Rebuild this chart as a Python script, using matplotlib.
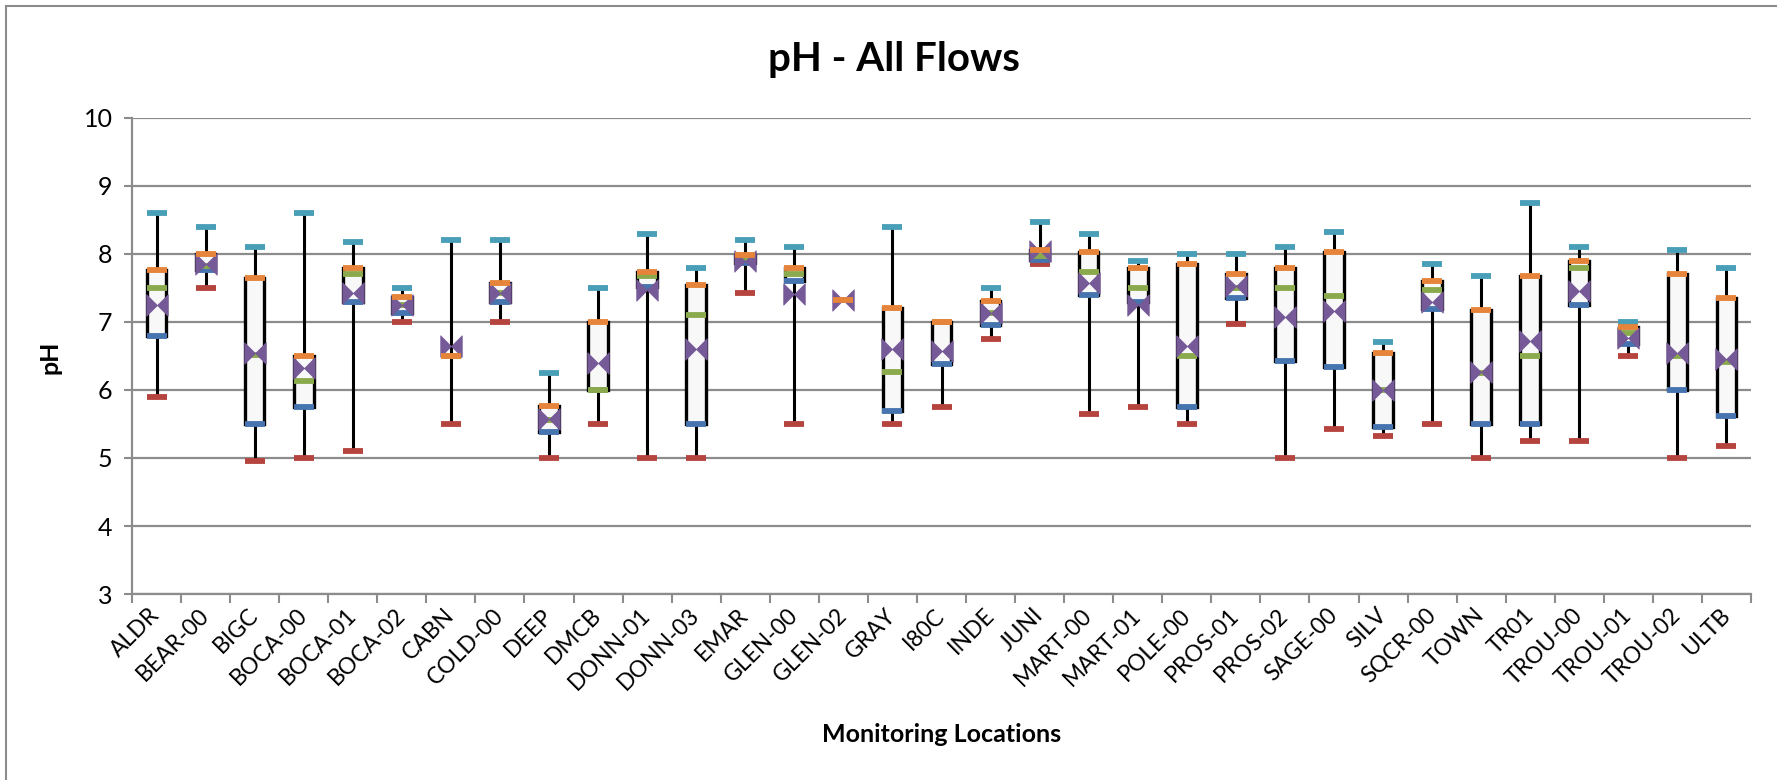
import matplotlib
matplotlib.use('Agg')
import matplotlib.pyplot as plt
from matplotlib.lines import Line2D
from matplotlib.patches import Rectangle
from matplotlib.path import Path

sites = ['ALDR', 'BEAR-00', 'BIGC', 'BOCA-00', 'BOCA-01', 'BOCA-02', 'CABN', 'COLD-00',
         'DEEP', 'DMCB', 'DONN-01', 'DONN-03', 'EMAR', 'GLEN-00', 'GLEN-02', 'GRAY',
         'I80C', 'INDE', 'JUNI', 'MART-00', 'MART-01', 'POLE-00', 'PROS-01', 'PROS-02',
         'SAGE-00', 'SILV', 'SQCR-00', 'TOWN', 'TR01', 'TROU-00', 'TROU-01', 'TROU-02', 'ULTB']

ph_max = [8.60, 8.40, 8.10, 8.60, 8.17, 7.50, 8.20, 8.20, 6.25, 7.50, 8.30, 7.80, 8.20,
          8.10, 7.33, 8.40, 7.00, 7.50, 8.47, 8.30, 7.90, 8.00, 8.00, 8.10, 8.33, 6.70,
          7.86, 7.67, 8.75, 8.10, 7.00, 8.06, 7.80]
ph_q3 = [7.77, 8.00, 7.64, 6.50, 7.80, 7.37, 6.50, 7.58, 5.77, 7.00, 7.73, 7.55, 7.99,
         7.80, 7.33, 7.20, 7.00, 7.31, 8.06, 8.03, 7.80, 7.86, 7.70, 7.80, 8.03, 6.55,
         7.61, 7.18, 7.67, 7.90, 6.93, 7.70, 7.35]
ph_median = [7.50, 7.82, 6.51, 6.13, 7.70, 7.25, 6.50, 7.42, 5.56, 6.00, 7.67, 7.10, 7.94,
             7.70, 7.33, 6.27, 7.00, 7.13, 7.97, 7.73, 7.50, 6.50, 7.50, 7.50, 7.38, 6.00,
             7.47, 6.25, 6.50, 7.80, 6.84, 6.50, 6.41]
ph_q1 = [6.80, 7.77, 5.50, 5.75, 7.30, 7.13, 6.50, 7.30, 5.38, 6.00, 7.51, 5.50, 7.87,
         7.60, 7.33, 5.69, 6.38, 6.95, 7.91, 7.40, 7.30, 5.75, 7.35, 6.42, 6.34, 5.46,
         7.19, 5.50, 5.50, 7.25, 6.68, 6.00, 5.62]
ph_min = [5.90, 7.50, 4.95, 5.00, 5.10, 7.00, 5.50, 7.00, 5.00, 5.50, 5.00, 5.00, 7.43,
          5.50, 7.33, 5.50, 5.75, 6.75, 7.86, 5.65, 5.75, 5.50, 6.97, 5.00, 5.42, 5.33,
          5.50, 5.00, 5.25, 5.25, 6.50, 5.00, 5.17]
ph_mean = [7.25, 7.86, 6.54, 6.32, 7.42, 7.25, 6.65, 7.42, 5.58, 6.39, 7.47, 6.60, 7.89,
           7.41, 7.33, 6.60, 6.57, 7.13, 8.05, 7.58, 7.25, 6.65, 7.53, 7.08, 7.16, 6.00,
           7.30, 6.27, 6.72, 7.46, 6.76, 6.55, 6.45]

W, H = 1777, 780
GRID = '#8C8C8C'


def main():
    plt.rcParams['font.family'] = ['Lato', 'DejaVu Sans']

    fig = plt.figure(figsize=(W / 100, H / 100), dpi=100)
    ax = fig.add_axes([132 / W, 1 - 594 / H, (1751 - 132) / W, (594 - 118) / H])

    n = len(sites)
    x = list(range(n))
    box_w = 0.4

    # whiskers and boxes
    for i in x:
        ax.plot([i, i], [ph_min[i], ph_max[i]], color='black', lw=2.2, zorder=2)
        ax.add_patch(Rectangle((i - box_w / 2, ph_q1[i]), box_w, ph_q3[i] - ph_q1[i],
                               facecolor='#F8F8F8', edgecolor='black', lw=2.4, zorder=3))

    dash = dict(ls='none', marker='_', ms=15, mew=4.2, zorder=4)
    ax.plot(x, ph_min, color='#B5443F', **dash)
    ax.plot(x, ph_max, color='#4A9FB8', **dash)
    ax.plot(x, ph_q1, color='#4674AE', **dash)
    ax.plot(x, ph_median, color='#8BAA4E', **dash)

    # bowtie marker for the mean
    bowtie = Path([(-1, -1), (-1, 1), (1, -1), (1, 1), (-1, -1)],
                  [Path.MOVETO, Path.LINETO, Path.LINETO, Path.LINETO, Path.CLOSEPOLY])
    ax.plot(x, ph_mean, ls='none', marker=bowtie, ms=15.5, color='#765A98',
            mec='#765A98', mew=0.5, zorder=5)
    ax.plot(x, ph_q3, color='#E5843A', ls='none', marker='_', ms=15, mew=4.2, zorder=6)

    ax.set_xlim(-0.5, n - 0.5)
    ax.set_ylim(3, 10)
    ax.set_yticks(range(3, 11))
    ax.set_xticks(x)
    ax.set_xticklabels(sites, rotation=45, ha='right', va='center', rotation_mode='anchor')
    ax.set_xticks([i - 0.5 for i in range(n + 1)], minor=True)
    ax.tick_params(axis='x', which='major', length=0, pad=13, labelsize=16.5)
    ax.tick_params(axis='x', which='minor', length=6.5, width=1.5, color=GRID, direction='out')
    ax.tick_params(axis='y', length=6, width=1.5, color=GRID, labelsize=18, pad=8)

    ax.grid(True, axis='y', color=GRID, lw=1.6)
    ax.set_axisbelow(True)
    for side in ('top', 'right'):
        ax.spines[side].set_visible(False)
    for side in ('left', 'bottom'):
        ax.spines[side].set_color(GRID)
        ax.spines[side].set_linewidth(1.6)

    fig.text(894 / W, 1 - 59 / H, 'pH - All Flows', ha='center', va='center',
             fontsize=29, fontweight='bold')
    fig.text(942 / W, 1 - 734 / H, 'Monitoring Locations', ha='center', va='center',
             fontsize=18, fontweight='bold')
    fig.text(50 / W, 1 - 357 / H, 'pH', ha='center', va='center', rotation=90,
             fontsize=18, fontweight='bold')

    # chart area border (left and top only visible)
    fig.add_artist(Line2D([6 / W, 6 / W], [0, 1 - 6 / H], transform=fig.transFigure,
                          color=GRID, lw=1.5))
    fig.add_artist(Line2D([6 / W, 1], [1 - 6 / H, 1 - 6 / H], transform=fig.transFigure,
                          color=GRID, lw=1.5))

    fig.savefig('out.png', dpi=100)


if __name__ == '__main__':
    main()
